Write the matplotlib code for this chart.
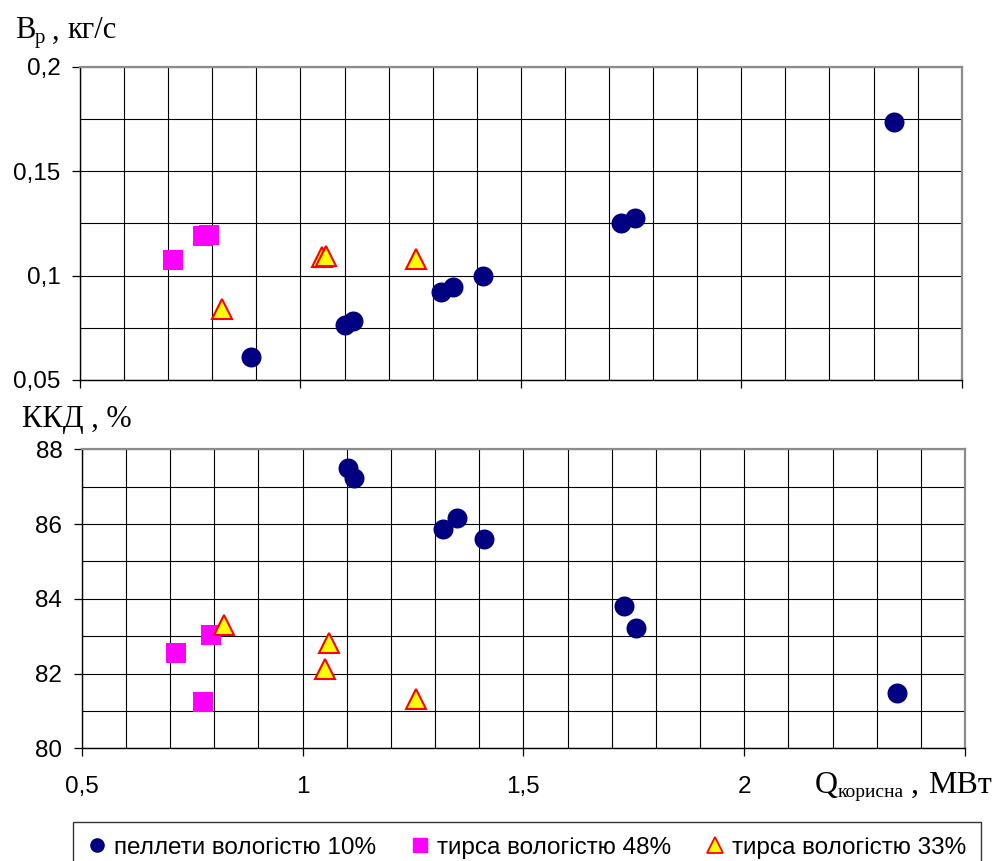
import matplotlib
matplotlib.use('Agg')
import matplotlib.pyplot as plt
from matplotlib.ticker import MultipleLocator, FixedLocator, FixedFormatter
from matplotlib.lines import Line2D

# --- data ---
# top panel: fuel consumption B_p, kg/s vs Q, MW
pellet_q_top = [0.887, 1.100, 1.119, 1.319, 1.347, 1.414, 1.727, 1.758, 2.347]
pellet_b = [0.0609, 0.0763, 0.0782, 0.0920, 0.0944, 0.1000, 0.1250, 0.1277, 0.1737]
saw48_q_top = [0.710, 0.779, 0.793]
saw48_b = [0.1074, 0.1190, 0.1192]
saw33_q_top = [0.821, 1.048, 1.058, 1.262]
saw33_b = [0.0838, 0.1087, 0.1095, 0.1078]

# bottom panel: efficiency, %
pellet_q_bot = [1.102, 1.116, 1.319, 1.349, 1.411, 1.728, 1.756, 2.347]
pellet_eff = [87.50, 87.22, 85.86, 86.17, 85.59, 83.81, 83.22, 81.47]
saw48_q_bot = [0.713, 0.775, 0.792]
saw48_eff = [82.54, 81.25, 83.03]
saw33_q_bot = [0.822, 1.052, 1.061, 1.258]
saw33_eff = [83.30, 82.11, 82.81, 81.32]

series_names = ['пеллети вологістю 10%', 'тирса вологістю 48%', 'тирса вологістю 33%']

x_ticks = [0.5, 1.0, 1.5, 2.0, 2.5]
x_ticklabels = ['0,5', '1', '1,5', '2', '']
top_yticks = [0.05, 0.1, 0.15, 0.2]
top_yticklabels = ['0,05', '0,1', '0,15', '0,2']
bot_yticks = [80, 82, 84, 86, 88]
bot_yticklabels = ['80', '82', '84', '86', '88']

W, H = 998, 861
fig = plt.figure(figsize=(W / 100, H / 100), dpi=100)

sans = ['Liberation Sans', 'DejaVu Sans']
serif = ['Liberation Serif', 'DejaVu Serif']

circle_style = dict(marker='o', color='#000080', markersize=14.4, linestyle='none', markeredgewidth=0)
square_style = dict(marker='s', color='#FF00FF', markersize=14, linestyle='none', markeredgewidth=0)
tri_style = dict(marker='^', markerfacecolor='#FFFF00', markeredgecolor='#FF0000', markersize=14.5,
                 markeredgewidth=1.5, linestyle='none')


def px_rect(left, top, right, bottom):
    return [left / W, 1 - bottom / H, (right - left) / W, (bottom - top) / H]


def style_axes(ax, yticks, yticklabels, y_minor, show_xlabels):
    ax.set_xlim(0.5, 2.5)
    ax.xaxis.set_major_locator(FixedLocator(x_ticks))
    ax.xaxis.set_minor_locator(MultipleLocator(0.1))
    ax.yaxis.set_major_locator(FixedLocator(yticks))
    ax.yaxis.set_major_formatter(FixedFormatter(yticklabels))
    ax.yaxis.set_minor_locator(MultipleLocator(y_minor))
    if show_xlabels:
        ax.xaxis.set_major_formatter(FixedFormatter(x_ticklabels))
    else:
        ax.tick_params(axis='x', labelbottom=False)
    ax.grid(True, which='both', color='black', linewidth=0.8)
    ax.set_axisbelow(True)
    ax.tick_params(which='major', direction='out', length=6, width=0.9, color='black',
                   labelsize=17.5)
    ax.tick_params(which='minor', length=0)
    ax.tick_params(axis='y', pad=8)
    ax.tick_params(axis='x', pad=14)
    for lab in ax.get_xticklabels() + ax.get_yticklabels():
        lab.set_fontfamily(sans)
    for side in ['left', 'bottom']:
        ax.spines[side].set_color('black')
        ax.spines[side].set_linewidth(1.0)
    for side in ['top', 'right']:
        ax.spines[side].set_color('#8c8c8c')
        ax.spines[side].set_linewidth(1.6)


ax1 = fig.add_axes(px_rect(80, 66.7, 961.7, 380))
ax1.plot(pellet_q_top, pellet_b, **circle_style)
ax1.plot(saw48_q_top, saw48_b, **square_style)
ax1.plot(saw33_q_top, saw33_b, **tri_style)
ax1.set_ylim(0.05, 0.2)
style_axes(ax1, top_yticks, top_yticklabels, 0.025, False)

ax2 = fig.add_axes(px_rect(81.7, 449.3, 965, 748.3))
ax2.plot(pellet_q_bot, pellet_eff, **circle_style)
ax2.plot(saw48_q_bot, saw48_eff, **square_style)
ax2.plot(saw33_q_bot, saw33_eff, **tri_style)
ax2.set_ylim(80, 88)
style_axes(ax2, bot_yticks, bot_yticklabels, 1, True)


def ftext(x, y, s, size, **kw):
    fig.text(x / W, 1 - y / H, s, fontsize=size, family=serif, ha='left', va='baseline', **kw)


# axis titles (pieces placed by hand to get the subscripts)
ftext(15, 38.5, 'B', 22)
ftext(35, 43, 'р', 15)
ftext(52, 38.5, ',', 22)
ftext(67, 38.5, 'кг/с', 22)

ftext(22, 427, 'ККД , %', 22)

ftext(815, 793, 'Q', 23)
ftext(838, 797, 'корисна', 14)
ftext(911, 793, ',', 23)
ftext(928, 793, 'МВт', 23)

# legend
handles = [Line2D([], [], marker='o', color='#000080', markersize=9.5, linestyle='none'),
           Line2D([], [], marker='s', color='#FF00FF', markersize=9.5, linestyle='none'),
           Line2D([], [], marker='^', markerfacecolor='#FFFF00', markeredgecolor='#FF0000',
                  markeredgewidth=1.3, markersize=11, linestyle='none')]
leg = fig.legend(handles, series_names, loc='upper left', bbox_to_anchor=(73 / W, 1 - 822 / H),
                 ncol=3, frameon=True, fancybox=False, edgecolor='black', borderaxespad=0,
                 handlelength=0.8, handletextpad=0.3, columnspacing=1.4, borderpad=0.6,
                 prop={'family': sans, 'size': 17.5})
leg.get_frame().set_linewidth(1.0)

fig.savefig('out.png', dpi=100)
